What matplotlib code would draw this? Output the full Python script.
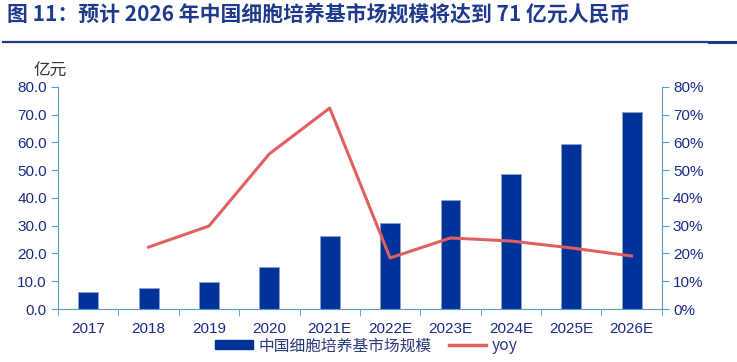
import matplotlib
matplotlib.use("Agg")
import matplotlib.pyplot as plt
from matplotlib.lines import Line2D
from matplotlib.patches import Patch
from matplotlib.ticker import FuncFormatter

plt.rcParams['font.family'] = ['Liberation Sans', 'Noto Sans CJK SC', 'DejaVu Sans']

years = ["2017", "2018", "2019", "2020", "2021E", "2022E", "2023E", "2024E", "2025E", "2026E"]
market = [6.1, 7.5, 9.7, 15.1, 26.3, 31.0, 39.2, 48.6, 59.5, 71.0]
yoy = [None, 22.3, 29.9, 55.9, 72.4, 18.4, 25.6, 24.5, 22.0, 19.1]

NAVY = "#003399"
RED = "#e06060"
AXC = "#5b9bd5"
TXT = "#1a2a8a"
CJK = ['Noto Sans CJK SC', 'DejaVu Sans']

fig = plt.figure(figsize=(7.37, 3.62), dpi=100)
ax = fig.add_axes([0.0787, 0.1464, 0.8193, 0.6133])
x = list(range(len(years)))
ax.bar(x, market, width=0.33, color=NAVY, edgecolor="#8fa0c8", linewidth=0.6, zorder=2)
ax.set_xlim(-0.5, len(years) - 0.5)
ax.set_ylim(0, 80)
ax.set_yticks(range(0, 81, 10))
ax.yaxis.set_major_formatter(FuncFormatter(lambda v, p: f"{v:.1f}"))
ax.set_xticks(x)
ax.set_xticklabels(years)
ax.set_xticks([i + 0.5 for i in range(-1, len(years))], minor=True)
ax.tick_params(axis="x", which="major", length=0, pad=9, labelsize=11, labelcolor=TXT)
ax.tick_params(axis="x", which="minor", length=5, color=AXC, direction="out")
ax.tick_params(axis="y", length=5, color=AXC, labelsize=11, labelcolor=TXT, pad=3)
for s in ["top", "right"]:
    ax.spines[s].set_visible(False)
for s in ["left", "bottom"]:
    ax.spines[s].set_color(AXC)

ax2 = ax.twinx()
xs = [i for i, v in zip(x, yoy) if v is not None]
ys = [v for v in yoy if v is not None]
ax2.plot(xs, ys, color=RED, lw=2.2, zorder=3)
ax2.set_ylim(0, 80)
ax2.set_yticks(range(0, 81, 10))
ax2.yaxis.set_major_formatter(FuncFormatter(lambda v, p: f"{v:.0f}%"))
ax2.tick_params(axis="y", length=5, color=AXC, labelsize=11, labelcolor=TXT, pad=3)
for s in ["top", "left", "bottom"]:
    ax2.spines[s].set_visible(False)
ax2.spines["right"].set_color(AXC)

fig.text(0.046, 0.79, "亿元", fontsize=12, color="#333333", family=CJK)

fig.text(0.01, 0.96, "图 11：预计 2026 年中国细胞培养基市场规模将达到 71 亿元人民币",
         fontsize=15, fontweight="bold", color="#1f3a8c", va="center", family=CJK)
fig.add_artist(Line2D([0.004, 0.959], [0.884, 0.884], color="#1f3a8a", lw=1.6))
fig.add_artist(Line2D([0.962, 1.0], [0.884, 0.884], color="#1f3a8a", lw=2.2))

handles = [Patch(facecolor=NAVY, edgecolor=NAVY), Line2D([], [], color=RED, lw=2.5)]
leg = fig.legend(handles, ["中国细胞培养基市场规模", "yoy"], loc="center", ncol=2,
                 bbox_to_anchor=(0.497, 0.045), frameon=False,
                 handlelength=2.4, handleheight=0.45, columnspacing=1.1, handletextpad=0.35,
                 prop={'family': CJK, 'size': 11.3})
for t in leg.get_texts():
    t.set_color("#2a3a7a")

fig.savefig("out.png", dpi=100)
